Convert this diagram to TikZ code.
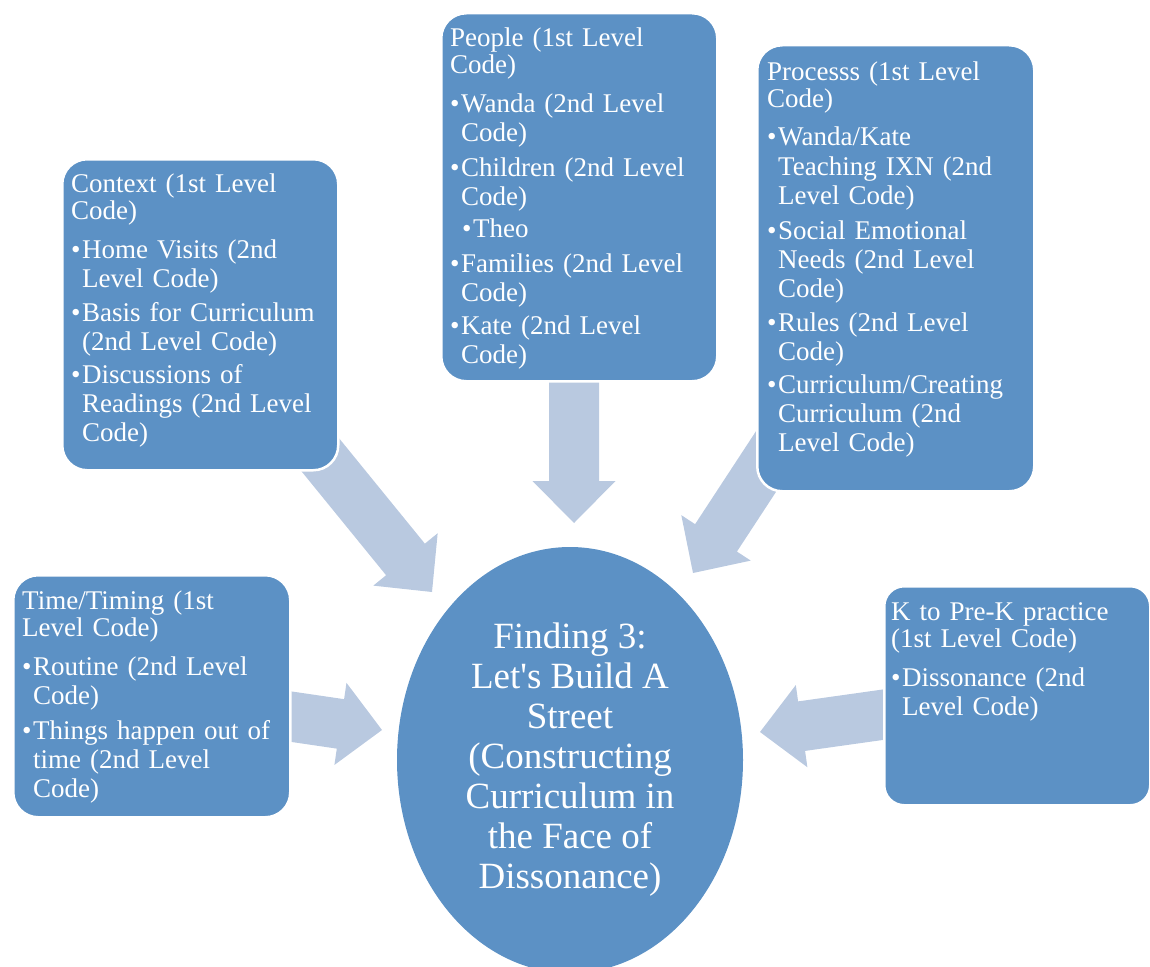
\documentclass[tikz,border=0pt]{standalone}
\usepackage{fontspec}
\setmainfont{Liberation Serif}
\usetikzlibrary{shapes.geometric,calc}
\definecolor{boxblue}{RGB}{92,145,197}
\definecolor{arrowblue}{RGB}{185,201,224}
\newcommand\bul{\makebox[11pt][l]{\textbullet}}
\newcommand\ind{\hspace*{11pt}}
\newcommand\blockarrow[2]{%
  \coordinate (#1b) at ($(#2)!42pt!(#1)$);
  \fill[arrowfill] ($(#1)!25pt!90:(#2)$) -- ($(#1b)!25pt!90:(#2)$) -- ($(#1b)!41.5pt!90:(#2)$) -- (#2)
    -- ($(#1b)!41.5pt!-90:(#2)$) -- ($(#1b)!25pt!-90:(#2)$) -- ($(#1)!25pt!-90:(#2)$) -- cycle;}
\begin{document}
\begin{tikzpicture}[x=1pt,y=-1pt,
  box/.style={draw=white, line width=2.5pt, fill=boxblue, rounded corners=25pt, anchor=north west, inner sep=0pt},
  txt/.style={text=white, font=\fontsize{27}{29}\selectfont, align=left, text width=268pt, inner sep=0pt, anchor=base west},
  arrowfill/.style={fill=arrowblue},
  ]
\useasboundingbox (0,0) rectangle (1150,966);
% arrow end points
\coordinate (ctxfrom) at (318,452);  \coordinate (ctxto) at (432,592);
\coordinate (pplfrom) at (574,370);  \coordinate (pplto) at (574,523);
\coordinate (prcfrom) at (786,431);  \coordinate (prcto) at (693,573);
\coordinate (timfrom) at (280,715);  \coordinate (timto) at (382,730);
\coordinate (kpkfrom) at (895,713);  \coordinate (kpkto) at (760,732);
\blockarrow{ctxfrom}{ctxto}
\blockarrow{pplfrom}{pplto}
\blockarrow{prcfrom}{prcto}
\blockarrow{timfrom}{timto}
\blockarrow{kpkfrom}{kpkto}
% boxes
\node[box, minimum width=276pt, minimum height=311pt] (ctx) at (61,158) {};
\node[box, minimum width=276pt, minimum height=368pt] (ppl) at (440,12) {};
\node[box, minimum width=277pt, minimum height=446pt] (prc) at (756,44) {};
\node[box, minimum width=277pt, minimum height=242pt] (tim) at (12,574) {};
\node[box, minimum width=266pt, minimum height=219pt, rounded corners=20pt] (kpk) at (883,585) {};
% centre
\node[ellipse, fill=boxblue, minimum width=346pt, minimum height=426pt, inner sep=0pt,
  text=white, align=center, font=\fontsize{37}{40}\selectfont] (find) at (570,760)
  {Finding 3:\\Let\textquotesingle s Build A\\Street\\(Constructing\\Curriculum in\\the Face of\\Dissonance)};
% texts
\node[txt] (ctxt) at ([shift={(10,34)}]ctx.north west)
  {Context (1st Level\\[-2pt]Code)\\[10pt]
   \bul Home Visits (2nd\\\ind Level Code)\\[5pt]
   \bul Basis for Curriculum\\\ind (2nd Level Code)\\[4pt]
   \bul Discussions of\\\ind Readings (2nd Level\\\ind Code)};
\node[txt] (pplt) at ([shift={(10,35)}]ppl.north west)
  {People (1st Level\\[-2pt]Code)\\[10pt]
   \bul Wanda (2nd Level\\\ind Code)\\[5pt]
   \bul Children (2nd Level\\\ind Code)\\[4pt]
   \hspace*{12pt}\bul Theo\\[5pt]
   \bul Families (2nd Level\\\ind Code)\\[4pt]
   \bul Kate (2nd Level\\\ind Code)};
\node[txt] (prct) at ([shift={(11,36)}]prc.north west)
  {Processs (1st Level\\[-2pt]Code)\\[10pt]
   \bul Wanda/Kate\\\ind Teaching IXN (2nd\\\ind Level Code)\\[6pt]
   \bul Social Emotional\\\ind Needs (2nd Level\\\ind Code)\\[5pt]
   \bul Rules (2nd Level\\\ind Code)\\[4pt]
   \bul Curriculum/Creating\\\ind Curriculum (2nd\\\ind Level Code)};
\node[txt] (timt) at ([shift={(10,35)}]tim.north west)
  {Time/Timing (1st\\[-2pt]Level Code)\\[10pt]
   \bul Routine (2nd Level\\\ind Code)\\[6pt]
   \bul Things happen out of\\\ind time (2nd Level\\\ind Code)};
\node[txt] (kpkt) at ([shift={(8,35)}]kpk.north west)
  {K to Pre-K practice\\[-2pt](1st Level Code)\\[10pt]
   \bul Dissonance (2nd\\\ind Level Code)};
\end{tikzpicture}
\end{document}
